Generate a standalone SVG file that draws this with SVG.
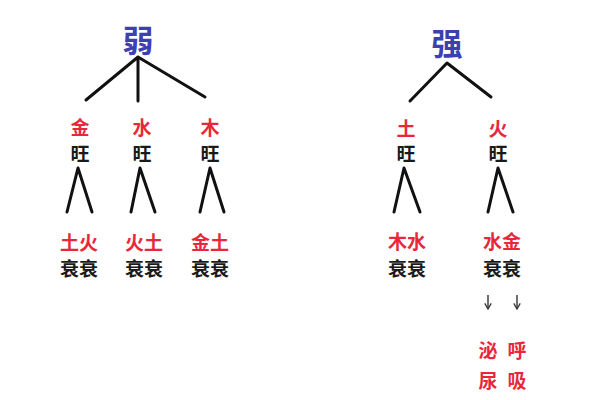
<svg xmlns="http://www.w3.org/2000/svg" width="600" height="400" viewBox="0 0 600 400">
<defs>
<marker id="ah" viewBox="0 0 10 10" refX="9" refY="5" markerWidth="8" markerHeight="8" orient="auto" markerUnits="userSpaceOnUse">
<path d="M2,1 L9,5 L2,9" fill="none" stroke="#333" stroke-width="1.6"/>
</marker>
</defs>
<style>
text{font-family:"Noto Sans CJK SC","Noto Sans",sans-serif;font-weight:bold;text-anchor:middle;dominant-baseline:central}
.top{font-size:31px;fill:#3d40b0}
.red{font-size:19px;fill:#e8283a}
.blk{font-size:19px;fill:#1a1a1a}
.ln{stroke:#111;stroke-width:3;fill:none;stroke-linecap:round;stroke-linejoin:round}
.ar{stroke:#333;stroke-width:1.4;fill:none}
</style>
<rect width="600" height="400" fill="#fff"/>
<g id="connectors">
<path class="ln" d="M86,100 L138,57 L205,97 M138,57 L138,101"/>
<path class="ln" d="M67,212 L78,168 L92,212"/>
<path class="ln" d="M131,212 L140,168 L155,212"/>
<path class="ln" d="M200,212 L210,168 L224,212"/>
<path class="ln" d="M410,101 L447,63 L491,97"/>
<path class="ln" d="M394,212 L404,168 L420,212"/>
<path class="ln" d="M488,212 L498,168 L513,212"/>
<path class="ar" d="M488,295 L488,309" marker-end="url(#ah)"/>
<path class="ar" d="M517,295 L517,309" marker-end="url(#ah)"/>
</g>
<g id="weak"><text class="top" x="138" y="38">弱</text></g>
<g id="strong"><text class="top" x="447" y="41">强</text></g>
<g id="jin"><text class="red" x="80" y="126">金</text><text class="blk" x="80" y="152">旺</text></g>
<g id="shui"><text class="red" x="142" y="126">水</text><text class="blk" x="142" y="152">旺</text></g>
<g id="mu"><text class="red" x="210" y="126">木</text><text class="blk" x="210" y="152">旺</text></g>
<g id="tu"><text class="red" x="406" y="127">土</text><text class="blk" x="406" y="152">旺</text></g>
<g id="huo"><text class="red" x="498" y="127">火</text><text class="blk" x="498" y="152">旺</text></g>
<g id="b1"><text class="red" x="79" y="241">土火</text><text class="blk" x="79" y="267">衰衰</text></g>
<g id="b2"><text class="red" x="144" y="241">火土</text><text class="blk" x="144" y="267">衰衰</text></g>
<g id="b3"><text class="red" x="210" y="241">金土</text><text class="blk" x="210" y="267">衰衰</text></g>
<g id="b4"><text class="red" x="407" y="240">木水</text><text class="blk" x="407" y="267">衰衰</text></g>
<g id="b5"><text class="red" x="502" y="240">水金</text><text class="blk" x="502" y="267">衰衰</text></g>
<g id="c1"><text class="red" x="488" y="349">泌</text><text class="red" x="488" y="379">尿</text></g>
<g id="c2"><text class="red" x="517" y="349">呼</text><text class="red" x="517" y="379">吸</text></g>
</svg>
